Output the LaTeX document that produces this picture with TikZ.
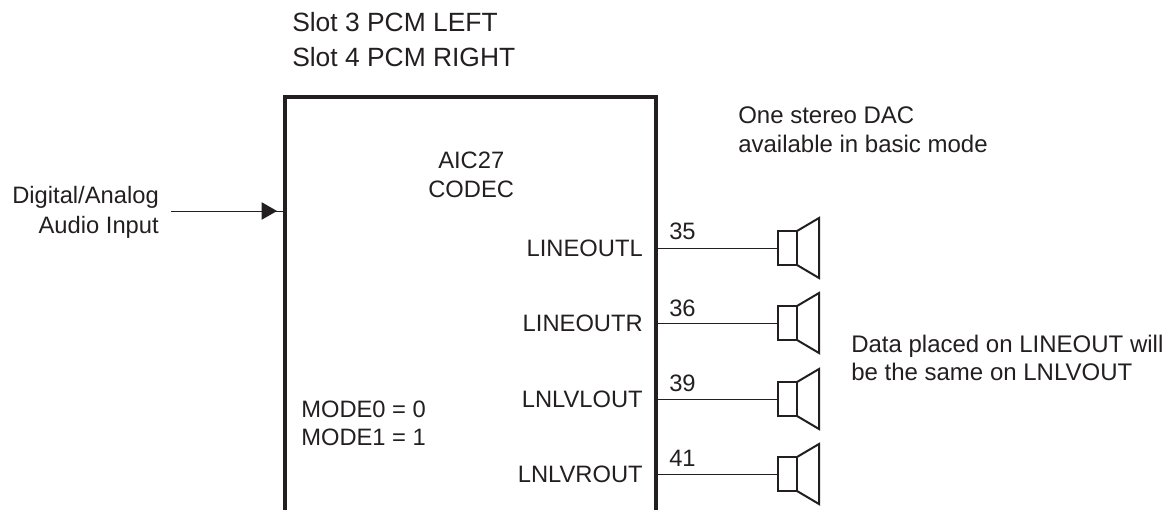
\documentclass[tikz,border=0pt]{standalone}
\usepackage{fontspec}
\setmainfont{Liberation Sans}
\usetikzlibrary{arrows.meta}
\definecolor{ink}{HTML}{231F20}
\tikzset{
 lbl/.style={inner sep=0pt,font=\fontsize{17.8}{22}\selectfont,text=ink,anchor=base west},
 lblr/.style={lbl,anchor=base east},
 mid/.style={lbl,font=\fontsize{18}{22}\selectfont},
 big/.style={lbl,font=\fontsize{19.8}{23}\selectfont},
 wire/.style={line width=0.7pt,draw=ink},
 body/.style={line width=2.4pt,draw=ink},
 spk/.style={line width=1.5pt,draw=ink,line join=miter}
}
\newcommand{\spkr}[2]{% name, y in px
  \coordinate (#1a) at (778,-#2+17);
  \coordinate (#1b) at (778,-#2-17);
  \coordinate (#1c) at (797,-#2-17);
  \coordinate (#1d) at (797,-#2+17);
  \coordinate (#1e) at (819,-#2+30);
  \coordinate (#1f) at (819,-#2-30);
  \draw[spk] (#1a)--(#1d)--(#1c)--(#1b)--cycle;
  \draw[spk] (#1d)--(#1e)--(#1f)--(#1c);
}
\begin{document}
\begin{tikzpicture}[x=0.75pt,y=0.75pt]
\useasboundingbox (0,-510) rectangle (1166,0);
\coordinate (tl) at (285,-97);
\coordinate (tr) at (656,-97);
\coordinate (bl) at (285,-510);
\coordinate (br) at (656,-510);
\draw[body] (bl)--(tl)--(tr)--(br);
\node[big] (s3) at (292,-32) {Slot 3 PCM LEFT};
\node[big] (s4) at (292,-66) {Slot 4 PCM RIGHT};
\node[mid] (o1) at (738,-123) {One stereo DAC};
\node[mid] (o2) at (738,-152) {available in basic mode};
\node[lbl] (a1) at (438,-168) {AIC27};
\node[lbl] (a2) at (428,-197) {CODEC};
\node[lblr] (d1) at (159,-203) {Digital/Analog};
\node[lblr] (d2) at (159,-233) {Audio Input};
\coordinate (inL) at (171,-211);
\coordinate (inT) at (277,-211);
\coordinate (inR) at (285,-211);
\draw[wire] (inL)--(inR);
\draw[wire,-{Triangle[length=11.5pt,width=13pt]}] (inL)--(inT);
\node[lblr] (l1) at (643,-256) {LINEOUTL};
\node[lblr] (l2) at (643,-331) {LINEOUTR};
\node[lblr] (l3) at (643,-407) {LNLVLOUT};
\node[lblr] (l4) at (643,-482) {LNLVROUT};
\node[lbl] (m0) at (301,-417) {MODE0 = 0};
\node[lbl] (m1) at (301,-445) {MODE1 = 1};
\node[lbl] (n1) at (669,-239) {35};
\node[lbl] (n2) at (669,-316) {36};
\node[lbl] (n3) at (669,-391) {39};
\node[lbl] (n4) at (669,-466) {41};
\node[mid] (t1) at (851,-352) {Data placed on LINEOUT will};
\node[mid] (t2) at (851,-380) {be the same on LNLVOUT};
\spkr{A}{248}
\spkr{B}{323}
\spkr{C}{399}
\spkr{D}{474}
\foreach \n/\y in {A/248,B/323,C/399,D/474}{
  \coordinate (w\n) at (656,-\y);
  \coordinate (v\n) at (778,-\y);
  \draw[wire] (w\n)--(v\n);
}
\end{tikzpicture}
\end{document}
